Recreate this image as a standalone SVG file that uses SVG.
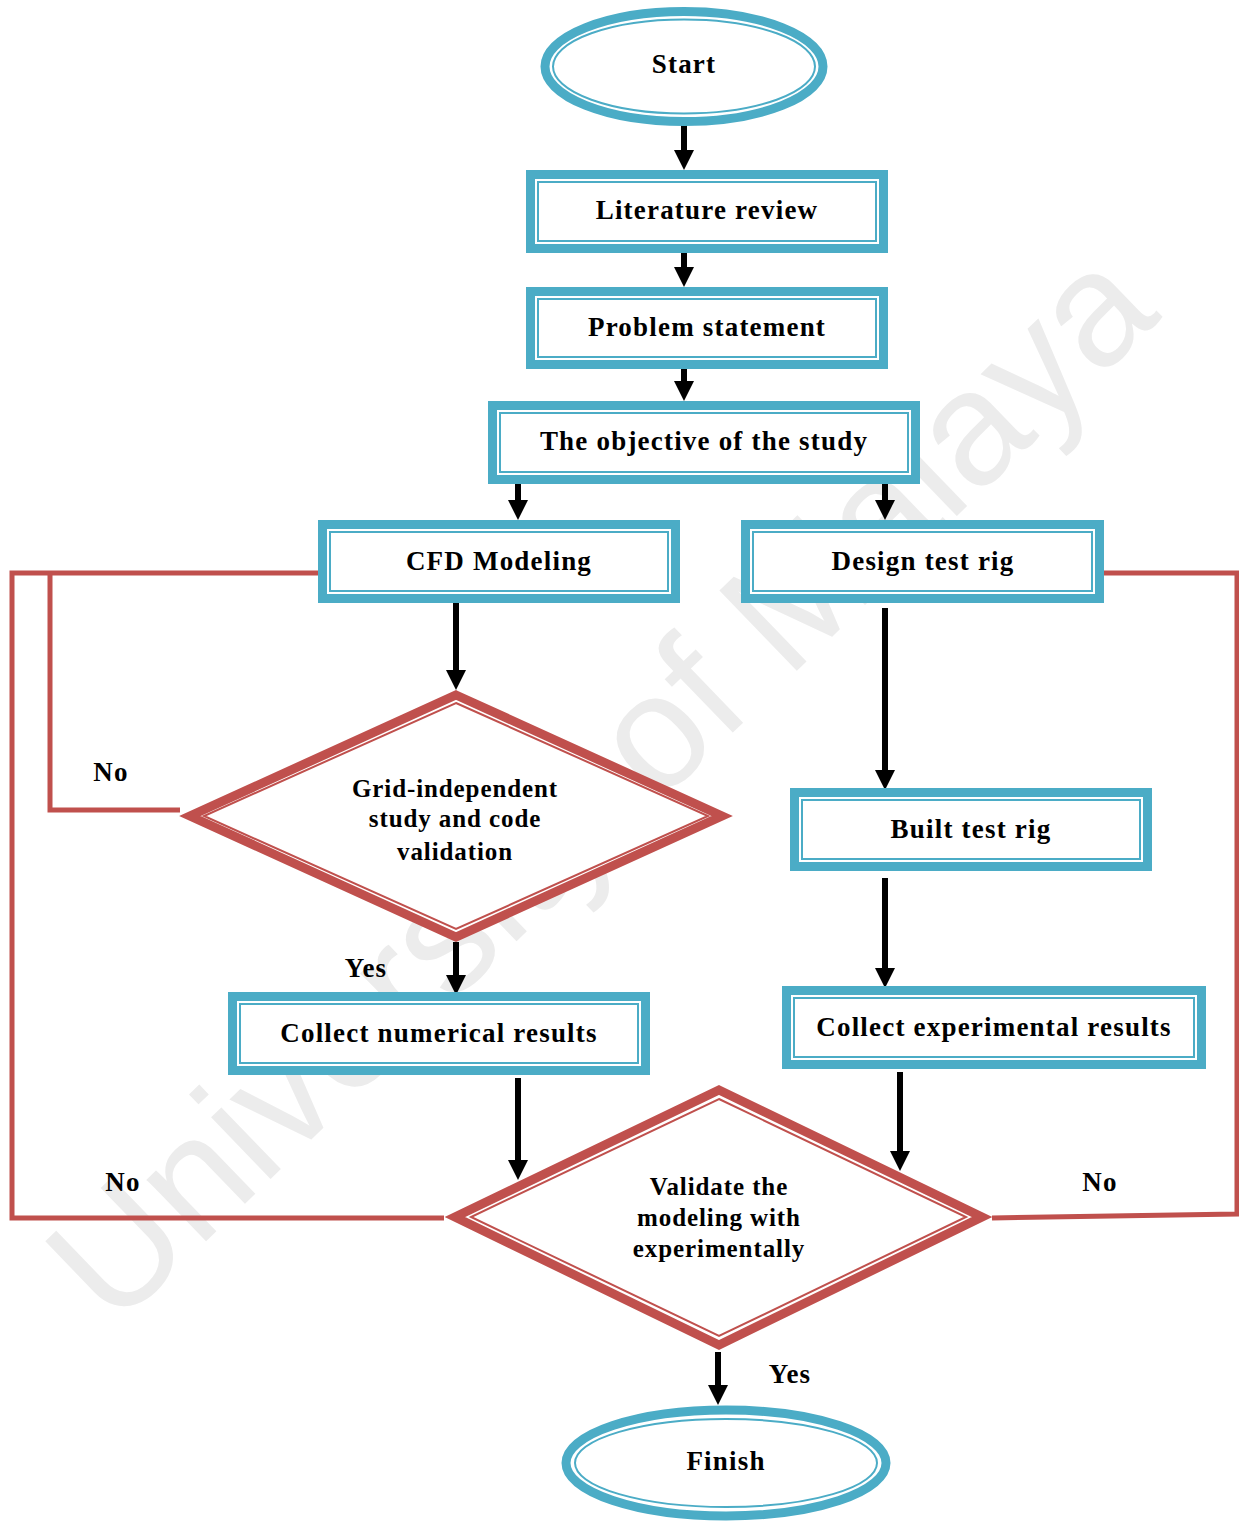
<svg xmlns="http://www.w3.org/2000/svg" width="1239" height="1524" viewBox="0 0 1239 1524">
<style>
.ob{fill:#fff;stroke:#4BACC6;stroke-width:9}
.ib{fill:none;stroke:#4BACC6;stroke-width:2}
.od{fill:#fff;stroke:#C0504D;stroke-width:9;stroke-linejoin:miter}
.id{fill:none;stroke:#C0504D;stroke-width:2}
.t{font-family:"Liberation Serif","Times New Roman",serif;font-weight:bold;font-size:27px;letter-spacing:1.2px;text-anchor:middle;fill:#000}
.d{font-size:25px;letter-spacing:0.9px}
.ar{fill:none;stroke:#000;stroke-width:6;marker-end:url(#ah)}
.fb{fill:none;stroke:#C0504D;stroke-width:5;stroke-linejoin:miter}
.wm{font-family:"Liberation Sans",Arial,sans-serif;font-size:162px;fill:#ececec;text-anchor:middle}
</style>
<defs>
<marker id="ah" markerWidth="20" markerHeight="20" refX="6" refY="10" orient="auto" markerUnits="userSpaceOnUse">
<path d="M0,0 L20,10 L0,20 z" fill="#000"/>
</marker>
</defs>
<rect width="1239" height="1524" fill="#fff"/>
<text class="wm" transform="translate(598,782) rotate(-44)" x="0" y="58">University of Malaya</text>

<g id="connectors">
<path class="ar" d="M684,122 V156"/>
<path class="ar" d="M684,253 V273"/>
<path class="ar" d="M684,369 V387"/>
<path class="ar" d="M518,484 V506"/>
<path class="ar" d="M885,484 V506"/>
<path class="ar" d="M456,603 V676"/>
<path class="ar" d="M885,608 V776"/>
<path class="ar" d="M456,942 V981"/>
<path class="ar" d="M885,878 V974"/>
<path class="ar" d="M518,1078 V1166"/>
<path class="ar" d="M900,1072 V1157"/>
<path class="ar" d="M718,1352 V1391"/>
<path class="fb" d="M180,810 H50 V573"/>
<path class="fb" d="M444,1218 H12 V573 H322"/>
<path class="fb" d="M992,1218 L1237,1214 V573 H1098"/>
<text class="t" x="111" y="781">No</text>
<text class="t" x="123" y="1191">No</text>
<text class="t" x="1100" y="1191">No</text>
<text class="t" x="366" y="977">Yes</text>
<text class="t" x="790" y="1383">Yes</text>
</g>

<g id="start">
<ellipse class="ob" cx="684" cy="66.5" rx="139" ry="55"/>
<ellipse class="ib" cx="684" cy="66.5" rx="131" ry="47"/>
<text class="t" x="684" y="73">Start</text>
</g>
<g id="literature">
<rect class="ob" x="530.5" y="174.5" width="353" height="74"/>
<rect class="ib" x="538" y="182" width="338" height="59"/>
<text class="t" x="707" y="219">Literature review</text>
</g>
<g id="problem">
<rect class="ob" x="530.5" y="291.5" width="353" height="73"/>
<rect class="ib" x="538" y="299" width="338" height="58"/>
<text class="t" x="707" y="336">Problem statement</text>
</g>
<g id="objective">
<rect class="ob" x="492.5" y="405.5" width="423" height="74"/>
<rect class="ib" x="500" y="413" width="408" height="59"/>
<text class="t" x="704" y="450">The objective of the study</text>
</g>
<g id="cfd">
<rect class="ob" x="322.5" y="524.5" width="353" height="74"/>
<rect class="ib" x="330" y="532" width="338" height="59"/>
<text class="t" x="499" y="570">CFD Modeling</text>
</g>
<g id="design">
<rect class="ob" x="745.5" y="524.5" width="354" height="74"/>
<rect class="ib" x="753" y="532" width="339" height="59"/>
<text class="t" x="923" y="570">Design test rig</text>
</g>
<g id="grid">
<polygon class="od" points="456,695 722,816 456,937 190,816"/>
<polygon class="id" points="456,703 708,816 456,929 204,816"/>
<text class="t d" x="455" y="797">Grid-independent</text>
<text class="t d" x="455" y="827">study and code</text>
<text class="t d" x="455" y="860">validation</text>
</g>
<g id="built">
<rect class="ob" x="794.5" y="792.5" width="353" height="74"/>
<rect class="ib" x="802" y="800" width="338" height="59"/>
<text class="t" x="971" y="838">Built test rig</text>
</g>
<g id="numerical">
<rect class="ob" x="232.5" y="996.5" width="413" height="74"/>
<rect class="ib" x="240" y="1004" width="398" height="59"/>
<text class="t" x="439" y="1042">Collect numerical results</text>
</g>
<g id="experimental">
<rect class="ob" x="786.5" y="990.5" width="415" height="74"/>
<rect class="ib" x="794" y="998" width="400" height="59"/>
<text class="t" x="994" y="1036">Collect experimental results</text>
</g>
<g id="validate">
<polygon class="od" points="719,1090 982,1217 719,1345 455,1217"/>
<polygon class="id" points="719,1099 966,1217 719,1336 471,1217"/>
<text class="t d" x="719" y="1195">Validate the</text>
<text class="t d" x="719" y="1226">modeling with</text>
<text class="t d" x="719" y="1257">experimentally</text>
</g>
<g id="finish">
<ellipse class="ob" cx="726" cy="1463" rx="160" ry="53"/>
<ellipse class="ib" cx="726" cy="1463" rx="151" ry="44"/>
<text class="t" x="726" y="1470">Finish</text>
</g>
</svg>
